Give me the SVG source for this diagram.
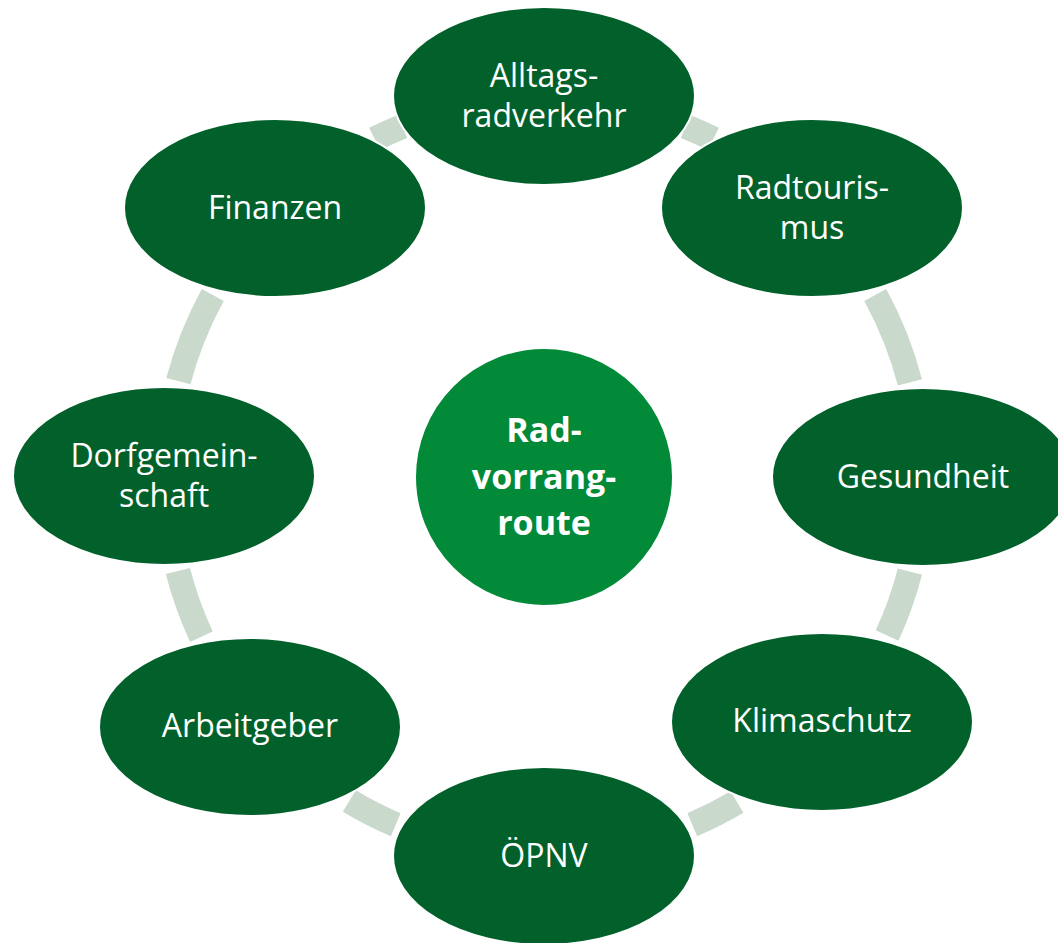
<svg xmlns="http://www.w3.org/2000/svg" width="1058" height="943" viewBox="0 0 1058 943">
<style>
.ring{fill:none;stroke:#c9d9cc;stroke-width:25;stroke-linecap:butt}
.node{fill:#02612b;stroke:#ffffff;stroke-width:2}
.hub{fill:#028a38;stroke:#ffffff;stroke-width:2}
.t{font-family:"Open Sans","Noto Sans","Liberation Sans",sans-serif;font-size:32px;fill:#ffffff;text-anchor:middle}
.tb{font-family:"Open Sans","Noto Sans","Liberation Sans",sans-serif;font-size:34px;font-weight:bold;fill:#ffffff;text-anchor:middle}
</style>
<rect width="1058" height="943" fill="#ffffff"/>
<g id="connectors">
<path class="ring" d="M685.6 126.5 A378 378 0 0 1 713.3 139.0"/>
<path class="ring" d="M875.2 294.9 A378 378 0 0 1 909.9 382.3"/>
<path class="ring" d="M909.9 571.7 A378 378 0 0 1 887.1 635.6"/>
<path class="ring" d="M737.0 802.0 A378 378 0 0 1 692.3 824.7"/>
<path class="ring" d="M395.7 824.7 A378 378 0 0 1 349.3 801.0"/>
<path class="ring" d="M201.4 636.7 A378 378 0 0 1 177.9 571.0"/>
<path class="ring" d="M178.4 381.1 A378 378 0 0 1 212.8 294.9"/>
<path class="ring" d="M374.7 139.0 A378 378 0 0 1 402.4 126.5"/>
</g>
<g id="center">
<circle class="hub" cx="544" cy="477" r="129"/>
<text class="tb" x="544" y="442">Rad-</text>
<text class="tb" x="544" y="488.5">vorrang-</text>
<text class="tb" x="544" y="535">route</text>
</g>
<g id="alltagsradverkehr">
<ellipse class="node" cx="544" cy="96" rx="151" ry="89"/>
<text class="t" x="544" y="87">Alltags-</text>
<text class="t" x="544" y="127">radverkehr</text>
</g>
<g id="radtourismus">
<ellipse class="node" cx="812" cy="208" rx="151" ry="89"/>
<text class="t" x="812" y="199">Radtouris-</text>
<text class="t" x="812" y="239">mus</text>
</g>
<g id="gesundheit">
<ellipse class="node" cx="923" cy="477" rx="151" ry="89"/>
<text class="t" x="923" y="488">Gesundheit</text>
</g>
<g id="klimaschutz">
<ellipse class="node" cx="822" cy="722" rx="151" ry="89"/>
<text class="t" x="822" y="732">Klimaschutz</text>
</g>
<g id="oepnv">
<ellipse class="node" cx="544" cy="856" rx="151" ry="89"/>
<text class="t" x="544" y="867">ÖPNV</text>
</g>
<g id="arbeitgeber">
<ellipse class="node" cx="250" cy="727" rx="151" ry="89"/>
<text class="t" x="250" y="737">Arbeitgeber</text>
</g>
<g id="dorfgemeinschaft">
<ellipse class="node" cx="164" cy="476" rx="151" ry="89"/>
<text class="t" x="164" y="467">Dorfgemein-</text>
<text class="t" x="164" y="507">schaft</text>
</g>
<g id="finanzen">
<ellipse class="node" cx="275" cy="208" rx="151" ry="89"/>
<text class="t" x="275" y="219">Finanzen</text>
</g>
</svg>
